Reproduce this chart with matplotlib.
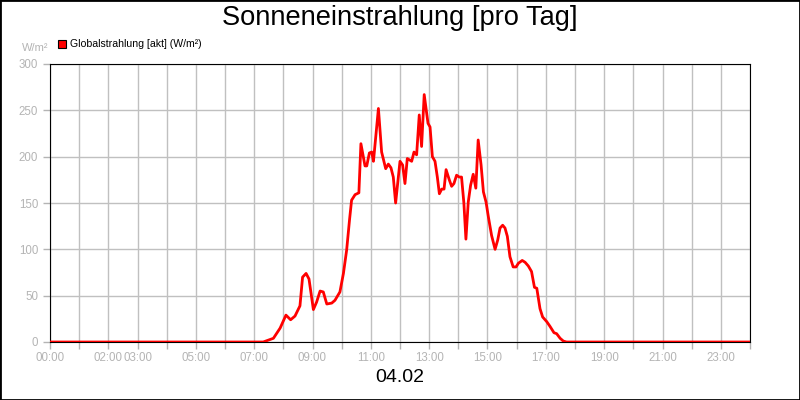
"""
Sonneneinstrahlung pro Tag - Globalstrahlung
"""

import matplotlib.pyplot as plt
from matplotlib.patches import Rectangle

plt.rcParams["font.family"] = ["Liberation Sans", "DejaVu Sans"]

# Uhrzeit in Stunden und Globalstrahlung in W/m²
hours = [
    0.0, 7.31, 7.66, 7.89, 8.09, 8.25, 8.40, 8.57, 8.66, 8.78, 8.88, 9.03,
    9.14, 9.26, 9.37, 9.49, 9.66, 9.77, 9.94, 10.06, 10.17, 10.27, 10.34,
    10.46, 10.59, 10.66, 10.80, 10.86, 10.95, 11.03, 11.09, 11.26, 11.37,
    11.51, 11.60, 11.69, 11.77, 11.85, 12.00, 12.09, 12.17, 12.25, 12.40,
    12.48, 12.57, 12.66, 12.74, 12.83, 12.96, 13.03, 13.11, 13.20, 13.28,
    13.35, 13.43, 13.51, 13.58, 13.69, 13.77, 13.85, 13.94, 14.03, 14.11,
    14.19, 14.26, 14.34, 14.42, 14.51, 14.60, 14.68, 14.78, 14.86, 14.95,
    15.03, 15.14, 15.26, 15.35, 15.43, 15.52, 15.60, 15.68, 15.77, 15.88,
    15.98, 16.06, 16.19, 16.29, 16.40, 16.51, 16.61, 16.69, 16.80, 16.89,
    17.03, 17.14, 17.28, 17.37, 17.49, 17.60, 17.71, 24.0,
]
radiation = [
    0, 0, 4, 15, 29, 24, 28, 39, 70, 74, 68, 35,
    43, 55, 54, 41, 42, 45, 54, 74, 99, 132, 153,
    159, 161, 214, 190, 190, 204, 205, 195, 252, 205,
    187, 192, 188, 178, 150, 195, 191, 171, 198, 195,
    205, 202, 245, 211, 267, 236, 232, 200, 195, 178,
    160, 165, 165, 186, 175, 168, 171, 180, 178, 178,
    150, 111, 151, 169, 181, 166, 218, 191, 162, 151,
    135, 115, 100, 110, 123, 126, 123, 114, 92, 81,
    81, 85, 88, 86, 82, 76, 59, 58, 36, 27,
    22, 17, 10, 9, 4, 1, 0, 0,
]

tick_hours = list(range(25))
labelled = [0, 2, 3, 5, 7, 9, 11, 13, 15, 17, 19, 21, 23]
tick_labels = [f"{h:02d}:00" if h in labelled else "" for h in tick_hours]
y_ticks = [0, 50, 100, 150, 200, 250, 300]

grey = "#b4b4b4"

fig = plt.figure(figsize=(8, 4), dpi=100)
fig.patches.append(
    Rectangle((0, 0), 1, 1, transform=fig.transFigure, fill=False,
              edgecolor="black", linewidth=2)
)
ax = fig.add_axes([50 / 800, 58 / 400, 700 / 800, 278 / 400])

ax.plot(hours, radiation, color="#ff0000", linewidth=2, zorder=3)

ax.set_xlim(0, 24)
ax.set_ylim(0, 300)
ax.set_xticks(tick_hours)
ax.set_xticklabels(tick_labels)
ax.set_yticks(y_ticks)
ax.grid(True, color="#c0c0c0", linewidth=1)
ax.set_axisbelow(True)
ax.tick_params(colors=grey, labelcolor=grey, labelsize=8.3, length=5, width=1)
ax.tick_params(axis="x", pad=2.5)
for side in ["top", "right", "left", "bottom"]:
    ax.spines[side].set_color("black")

fig.text(0.5, 1 - 18 / 400, "Sonneneinstrahlung [pro Tag]", ha="center",
         va="center", fontsize=19.6)
fig.text(0.5, 1 - 377 / 400, "04.02", ha="center", va="center", fontsize=14)
fig.text(35.5 / 800, 1 - 48 / 400, "W/m²", ha="center", va="center",
         fontsize=8, color=grey)

fig.patches.append(
    Rectangle((58 / 800, 1 - 48 / 400), 8 / 800, 8 / 400,
              transform=fig.transFigure, facecolor="#ff0000",
              edgecolor="black", linewidth=0.8)
)
fig.text(70 / 800, 1 - 44 / 400, "Globalstrahlung [akt] (W/m²)", ha="left",
         va="center", fontsize=7.6, color="black")

fig.savefig("out.png", dpi=100)
